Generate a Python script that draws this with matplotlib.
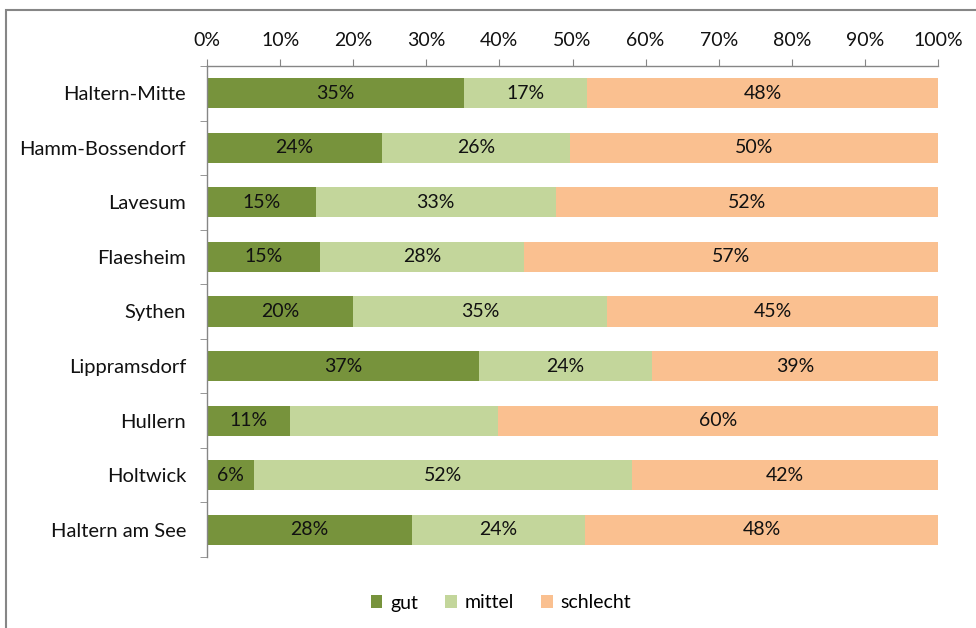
import numpy as np
import matplotlib.pyplot as plt
from matplotlib.patches import Rectangle

plt.rcParams['font.family'] = ['Lato', 'DejaVu Sans']

orte = ['Haltern-Mitte', 'Hamm-Bossendorf', 'Lavesum', 'Flaesheim', 'Sythen',
        'Lippramsdorf', 'Hullern', 'Holtwick', 'Haltern am See']
gut = [35.2, 23.9, 14.9, 15.4, 20.0, 37.2, 11.4, 6.4, 28.0]
mittel = [16.8, 25.8, 32.8, 28.0, 34.7, 23.7, 28.4, 51.7, 23.7]
schlecht = [48.0, 50.3, 52.3, 56.6, 45.3, 39.1, 60.2, 41.9, 48.3]
# in der Vorlage fehlt die Beschriftung bei Hullern / mittel
show_mittel = [True, True, True, True, True, True, False, True, True]

farben = ['#77933C', '#C3D69B', '#FAC090']
grau = '#868686'
fs = 14

fig = plt.figure(figsize=(9.76, 6.28), dpi=100)
fig.patches.append(Rectangle((6 / 976, -0.05), 1.2, 1 - 10 / 628 + 0.05,
                             transform=fig.transFigure, fill=False,
                             edgecolor=grau, linewidth=1.5))
ax = fig.add_axes([207 / 976, 1 - 557 / 628, (938 - 207) / 976, (557 - 66) / 628])

y = np.arange(len(orte))
left = np.zeros(len(orte))
serien = [('gut', gut), ('mittel', mittel), ('schlecht', schlecht)]
for i, (name, werte) in enumerate(serien):
    werte = np.array(werte)
    ax.barh(y, werte, left=left, height=0.55, color=farben[i], label=name)
    for j, w in enumerate(werte):
        if name == 'mittel' and not show_mittel[j]:
            continue
        ax.text(left[j] + w / 2, y[j], '{}%'.format(int(round(w))),
                ha='center', va='center', fontsize=fs, color='#111111')
    left += werte

ax.set_xlim(0, 100)
ax.set_ylim(len(orte) - 0.5, -0.5)
ax.xaxis.tick_top()
ax.set_xticks(np.arange(0, 101, 10))
ax.set_xticklabels(['{}%'.format(v) for v in range(0, 101, 10)], fontsize=fs,
                   color='#111111')
ax.set_yticks(y)
ax.set_yticklabels(orte, fontsize=14.5, color='#111111')
ax.set_yticks(np.arange(-0.5, len(orte), 1), minor=True)
ax.tick_params(axis='y', which='major', length=0, pad=15)
ax.tick_params(axis='y', which='minor', length=5, color=grau)
ax.tick_params(axis='x', length=5, color=grau, pad=7)
for s in ['right', 'bottom']:
    ax.spines[s].set_visible(False)
for s in ['top', 'left']:
    ax.spines[s].set_color(grau)
    ax.spines[s].set_linewidth(1)

fig.legend(loc='center', bbox_to_anchor=(501 / 976, 1 - 603 / 628), ncol=3,
           frameon=False, fontsize=fs, handlelength=0.6, handleheight=0.6,
           handletextpad=0.4, columnspacing=1.4)

fig.savefig('out.png', dpi=100)
